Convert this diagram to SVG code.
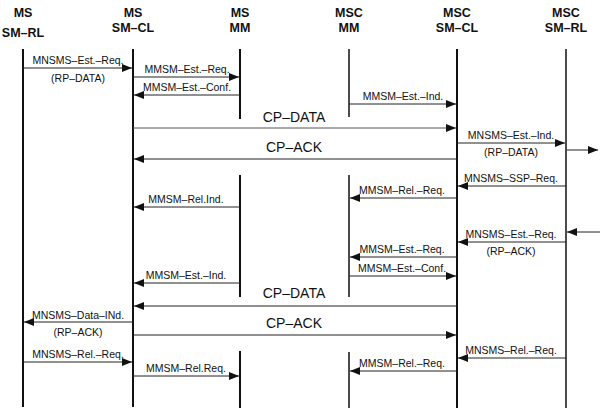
<svg xmlns="http://www.w3.org/2000/svg" width="603" height="417" viewBox="0 0 603 417">
<defs>
<marker id="ah" viewBox="0 0 10 8" refX="10" refY="4" markerWidth="10" markerHeight="8" markerUnits="userSpaceOnUse" orient="auto">
<path d="M0,0 L10,4 L0,8 Z" fill="#111"/>
</marker>
</defs>
<style>
.hd{font-family:"Liberation Sans",Arial,sans-serif;font-weight:bold;font-size:12.5px;fill:#111;text-anchor:middle}
.ll{stroke:#111;stroke-width:2;fill:none}
.msg{stroke:#222;stroke-width:1;fill:none;marker-end:url(#ah)}
.lb{font-family:"Liberation Sans",Arial,sans-serif;font-size:10.5px;fill:#111;text-anchor:middle}
.big{font-family:"Liberation Sans",Arial,sans-serif;font-size:14px;fill:#111;text-anchor:middle}
</style>
<rect width="603" height="417" fill="#fff"/>
<g id="ms-smrl">
<text class="hd" x="23" y="17">MS</text>
<text class="hd" x="23" y="37">SM–RL</text>
<line class="ll" x1="23" y1="49" x2="23" y2="407"/>
</g>
<g id="ms-smcl">
<text class="hd" x="133" y="17">MS</text>
<text class="hd" x="133" y="32">SM–CL</text>
<line class="ll" x1="133" y1="49" x2="133" y2="407"/>
</g>
<g id="ms-mm">
<text class="hd" x="240" y="17">MS</text>
<text class="hd" x="240" y="32">MM</text>
<line class="ll" x1="240" y1="49" x2="240" y2="119"/>
<line class="ll" x1="240" y1="175" x2="240" y2="297"/>
<line class="ll" x1="240" y1="351" x2="240" y2="408"/>
</g>
<g id="msc-mm">
<text class="hd" x="349" y="17">MSC</text>
<text class="hd" x="349" y="32">MM</text>
<line class="ll" x1="349" y1="49" x2="349" y2="117" style="stroke-width:1.5"/>
<line class="ll" x1="349" y1="175" x2="349" y2="297" style="stroke-width:1.5"/>
<line class="ll" x1="349" y1="352" x2="349" y2="408" style="stroke-width:1.5"/>
</g>
<g id="msc-smcl">
<text class="hd" x="457" y="17">MSC</text>
<text class="hd" x="457" y="32">SM–CL</text>
<line class="ll" x1="457" y1="49" x2="457" y2="408"/>
</g>
<g id="msc-smrl">
<text class="hd" x="566" y="17">MSC</text>
<text class="hd" x="566" y="32">SM–RL</text>
<line class="ll" x1="566" y1="49" x2="566" y2="408" style="stroke-width:1.5"/>
</g>
<g id="connectors">
<line class="msg" x1="23" y1="68" x2="132" y2="68"/>
<text class="lb" x="78" y="64">MNSMS–Est.–Req.</text>
<text class="lb" x="78" y="82">(RP–DATA)</text>
<line class="msg" x1="133" y1="77" x2="239" y2="77"/>
<text class="lb" x="187" y="73">MMSM–Est.–Req.</text>
<line class="msg" x1="240" y1="95" x2="134" y2="95"/>
<text class="lb" x="187" y="91">MMSM–Est.–Conf.</text>
<line class="msg" x1="349" y1="104" x2="456" y2="104"/>
<text class="lb" x="403" y="100">MMSM–Est.–Ind.</text>
<line class="msg" x1="133" y1="128" x2="456" y2="128" style="stroke:#555"/>
<text class="big" x="294" y="122">CP–DATA</text>
<line class="msg" x1="457" y1="159" x2="134" y2="159"/>
<text class="big" x="294" y="152">CP–ACK</text>
<line class="msg" x1="457" y1="143" x2="565" y2="143"/>
<text class="lb" x="511" y="139">MNSMS–Est.–Ind.</text>
<text class="lb" x="511" y="156">(RP–DATA)</text>
<line class="msg" x1="567" y1="150" x2="598" y2="150"/>
<line class="msg" x1="566" y1="186" x2="458" y2="186"/>
<text class="lb" x="511" y="182">MNSMS–SSP–Req.</text>
<line class="msg" x1="457" y1="198" x2="350" y2="198"/>
<text class="lb" x="402" y="194">MMSM–Rel.–Req.</text>
<line class="msg" x1="240" y1="207" x2="134" y2="207"/>
<text class="lb" x="186" y="203">MMSM–Rel.Ind.</text>
<line class="msg" x1="600" y1="232" x2="567" y2="232"/>
<line class="msg" x1="566" y1="242" x2="458" y2="242"/>
<text class="lb" x="511" y="238">MNSMS–Est.–Req.</text>
<text class="lb" x="511" y="255">(RP–ACK)</text>
<line class="msg" x1="457" y1="257" x2="350" y2="257"/>
<text class="lb" x="402" y="253">MMSM–Est.–Req.</text>
<line class="msg" x1="349" y1="276" x2="456" y2="276"/>
<text class="lb" x="402" y="272">MMSM–Est.–Conf.</text>
<line class="msg" x1="240" y1="283" x2="134" y2="283"/>
<text class="lb" x="186" y="279">MMSM–Est.–Ind.</text>
<line class="msg" x1="457" y1="306" x2="134" y2="306"/>
<text class="big" x="294" y="298">CP–DATA</text>
<line class="msg" x1="133" y1="322" x2="24" y2="322"/>
<text class="lb" x="78" y="319">MNSMS–Data–INd.</text>
<text class="lb" x="78" y="336">(RP–ACK)</text>
<line class="msg" x1="133" y1="335" x2="456" y2="335"/>
<text class="big" x="294" y="328">CP–ACK</text>
<line class="msg" x1="23" y1="362" x2="132" y2="362"/>
<text class="lb" x="78" y="358">MNSMS–Rel.–Req.</text>
<line class="msg" x1="133" y1="376" x2="239" y2="376"/>
<text class="lb" x="186" y="372">MMSM–Rel.Req.</text>
<line class="msg" x1="566" y1="358" x2="458" y2="358"/>
<text class="lb" x="511" y="354">MNSMS–Rel.–Req.</text>
<line class="msg" x1="457" y1="371" x2="350" y2="371"/>
<text class="lb" x="402" y="367">MMSM–Rel.–Req.</text>
</g>
</svg>
